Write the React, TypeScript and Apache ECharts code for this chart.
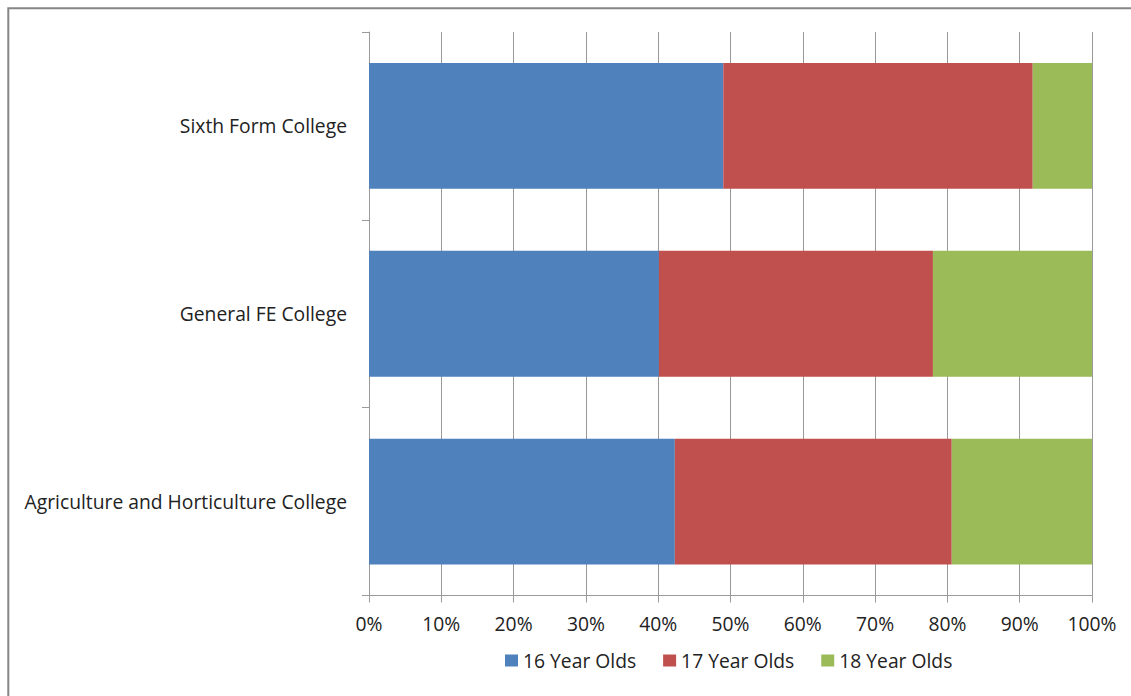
import React, { useEffect, useRef } from "react";
import * as echarts from "echarts";

const categories = ["Sixth Form College", "General FE College", "Agriculture and Horticulture College"];
const seriesNames = ["16 Year Olds", "17 Year Olds", "18 Year Olds"];
const age16 = [49.0, 40.1, 42.3];
const age17 = [42.8, 37.9, 38.3];
const age18 = [8.2, 22.0, 19.4];
const colors = ["#4F81BD", "#C0504D", "#9BBB59"];
const tickValues = [0, 10, 20, 30, 40, 50, 60, 70, 80, 90, 100];

export default function App() {
  const ref = useRef<HTMLDivElement>(null);
  useEffect(() => {
    if (!ref.current) return;
    const chart = echarts.init(ref.current, null, { renderer: "svg" });
    const font = "'Open Sans', sans-serif";
    const fs = 19.3;
    const data = [age16, age17, age18];
    chart.setOption({
      animation: false,
      backgroundColor: "#ffffff",
      textStyle: { fontFamily: font },
      graphic: [
        {
          type: "rect",
          shape: { x: 8.3, y: 8.3, width: 3000, height: 3000 },
          style: { fill: "none", stroke: "#868686", lineWidth: 2 },
          silent: true,
        },
      ],
      grid: { left: 369, top: 32, width: 723, height: 563.5, containLabel: false },
      legend: {
        left: 505,
        top: 651,
        padding: 0,
        itemWidth: 13,
        itemHeight: 12,
        itemGap: 27,
        icon: "rect",
        textStyle: { fontFamily: font, fontSize: fs, color: "#222" },
        data: seriesNames,
      },
      xAxis: {
        type: "value",
        min: 0,
        max: 100,
        interval: 10,
        axisLine: { show: true, lineStyle: { color: "#9a9a9a", width: 1 } },
        axisTick: { show: true, length: 7, lineStyle: { color: "#9a9a9a" } },
        splitLine: { show: true, lineStyle: { color: "#999999", width: 1 } },
        axisLabel: {
          margin: 18,
          fontFamily: font,
          fontSize: fs,
          color: "#222",
          formatter: (v: number) => (tickValues.includes(v) ? v + "%" : ""),
        },
      },
      yAxis: {
        type: "category",
        inverse: true,
        data: categories,
        axisLine: { show: true, lineStyle: { color: "#9a9a9a", width: 1 } },
        axisTick: { show: true, length: 7, inside: false, lineStyle: { color: "#9a9a9a" } },
        splitLine: { show: false },
        axisLabel: { margin: 22, fontFamily: font, fontSize: fs, color: "#222" },
      },
      series: seriesNames.map((name, i) => ({
        name,
        type: "bar",
        stack: "total",
        barCategoryGap: "33%",
        data: data[i],
        itemStyle: { color: colors[i] },
      })),
    });
    return () => chart.dispose();
  }, []);
  return (
    <div
      ref={ref}
      style={{ position: "absolute", left: 0, top: 0, width: 1131, height: 696 }}
    />
  );
}
